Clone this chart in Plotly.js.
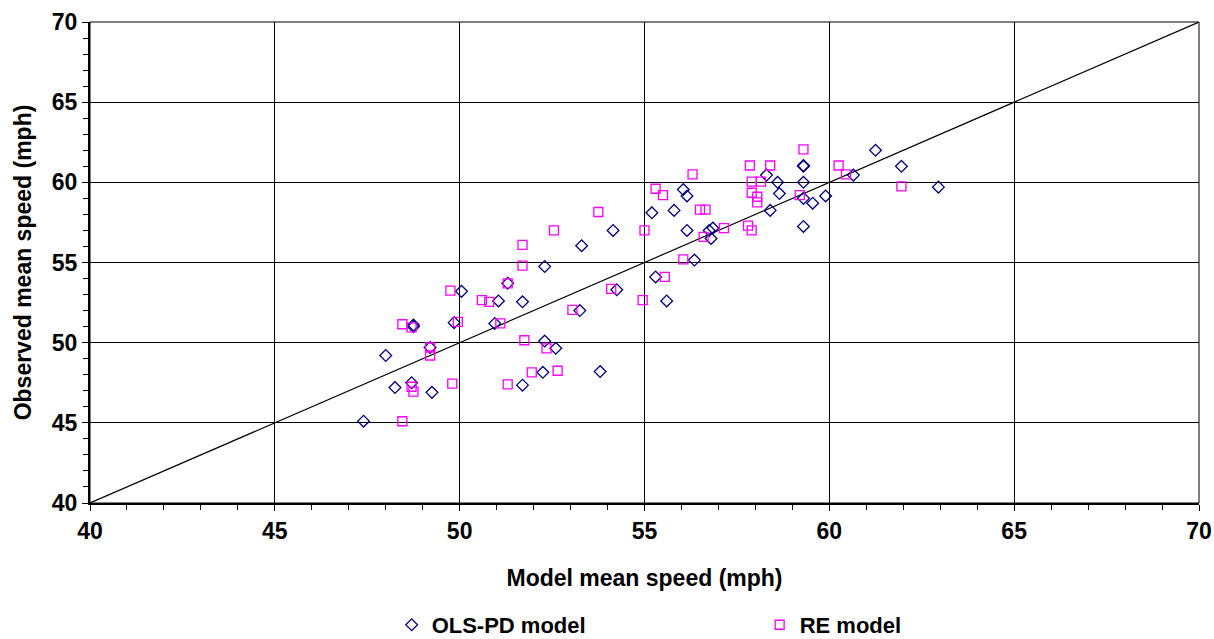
<!DOCTYPE html>
<html>
<head>
<meta charset="utf-8">
<script src="https://cdn.plot.ly/plotly-3.0.1.min.js"></script>
<style>html,body{margin:0;padding:0;background:#fff;}#chart{width:1214px;height:639px;}</style>
</head>
<body>
<div id="chart"></div>
<script>
// OLS-PD model: model mean speed (x) vs observed mean speed (y)
const olsX = [47.4, 48.0, 48.25, 48.7, 49.25, 48.75, 48.75, 49.2, 49.85, 50.05,
              50.95, 51.05, 51.3, 51.7, 51.7, 52.25, 52.3, 52.6, 52.3, 53.25,
              53.3, 53.8, 54.15, 54.25, 55.2, 55.3, 55.6, 55.8, 56.05, 56.15,
              56.15, 56.35, 56.85, 56.75, 56.8, 58.3, 58.6, 58.65, 58.4, 59.3,
              59.3, 59.3, 59.3, 59.55, 59.9, 59.3, 60.65, 61.25, 61.95, 62.95];
const olsY = [45.1, 49.2, 47.2, 47.5, 46.9, 51.1, 51.0, 49.7, 51.25, 53.2,
              51.2, 52.6, 53.7, 52.55, 47.35, 48.15, 50.1, 49.65, 54.75, 52.0,
              56.05, 48.2, 57.0, 53.3, 58.1, 54.1, 52.6, 58.25, 59.55, 59.15,
              57.0, 55.15, 57.15, 57.0, 56.5, 60.45, 60.0, 59.3, 58.25, 61.0,
              61.05, 60.0, 59.0, 58.7, 59.15, 57.25, 60.45, 62.0, 61.0, 59.7];
// RE model
const reX = [48.45, 48.7, 48.75, 49.8, 49.2, 49.2, 48.45, 48.7, 49.95, 49.75,
             50.6, 50.8, 51.1, 51.3, 51.3, 51.95, 51.75, 52.35, 52.65, 51.7,
             51.7, 52.55, 53.05, 53.75, 54.1, 54.95, 55.0, 55.3, 55.5, 55.55,
             56.05, 56.3, 56.5, 56.65, 56.6, 57.15, 57.85, 58.4, 57.9, 58.15,
             57.9, 58.05, 58.05, 57.8, 57.9, 59.3, 59.2, 60.25, 60.45, 61.95];
const reY = [45.1, 47.25, 46.95, 47.45, 49.7, 49.2, 51.15, 50.95, 51.3, 53.25,
             52.65, 52.55, 51.2, 53.7, 47.4, 48.15, 50.15, 49.65, 48.25, 56.1,
             54.8, 57.0, 52.05, 58.15, 53.35, 52.65, 57.0, 59.6, 59.2, 54.1,
             55.2, 60.5, 58.3, 58.3, 56.6, 57.15, 61.05, 61.05, 60.05, 60.05,
             59.35, 59.1, 58.75, 57.3, 57.0, 62.05, 59.2, 61.05, 60.5, 59.75];
// 45-degree reference line
const lineX = [40, 70];
const lineY = [40, 70];
const seriesNames = ['OLS-PD model', 'RE model'];
const xTitle = 'Model mean speed (mph)';
const yTitle = 'Observed mean speed (mph)';

const FONT = 'Liberation Sans, Arial, sans-serif';
const FS = 23;

const traces = [
  {x: lineX, y: lineY, mode: 'lines', line: {color: '#000', width: 1.2},
   showlegend: false, hoverinfo: 'skip'},
  {x: olsX, y: olsY, mode: 'markers', name: seriesNames[0],
   marker: {symbol: 'diamond-open', size: 9, color: '#000080', line: {width: 1.3}}},
  {x: reX, y: reY, mode: 'markers', name: seriesNames[1],
   marker: {symbol: 'square-open', size: 9, color: '#FF00FF', line: {width: 1.3}}}
];

const axisCommon = {
  range: [40, 70], dtick: 5, tick0: 40, automargin: false,
  showgrid: true, gridcolor: '#000', gridwidth: 1,
  showline: true, linecolor: '#000', linewidth: 2,
  ticks: 'outside', ticklen: 6, tickwidth: 1, tickcolor: '#000',
  minor: {dtick: 1, ticks: 'outside', ticklen: 5, tickwidth: 1, tickcolor: '#000', showgrid: false},
  zeroline: false,
  tickfont: {family: FONT, size: FS, color: '#000', weight: 'bold'},
  fixedrange: true
};

const layout = {
  width: 1214, height: 639,
  margin: {l: 90, r: 15, t: 22, b: 136},
  paper_bgcolor: '#fff', plot_bgcolor: '#fff',
  font: {family: FONT, color: '#000'},
  xaxis: Object.assign({}, axisCommon, {
    title: {text: xTitle, font: {family: FONT, size: FS, color: '#000', weight: 'bold'}, standoff: 27}
  }),
  yaxis: Object.assign({}, axisCommon, {
    title: {text: yTitle, font: {family: FONT, size: FS, color: '#000', weight: 'bold'}, standoff: 14}
  }),
  showlegend: true,
  legend: {
    orientation: 'h', x: 0.272, xanchor: 'left',
    yref: 'container', y: 0.022, yanchor: 'middle',
    font: {family: FONT, size: 22, color: '#000', weight: 'bold'},
    entrywidth: 323, entrywidthmode: 'pixels', itemwidth: 30,
    bgcolor: 'rgba(0,0,0,0)'
  },
  shapes: [
    {type: 'rect', xref: 'paper', yref: 'paper', x0: 0, y0: 0, x1: 1, y1: 1,
     line: {color: '#000', width: 1}, fillcolor: 'rgba(0,0,0,0)', layer: 'above'}
  ]
};

Plotly.newPlot('chart', traces, layout, {staticPlot: true, displayModeBar: false});
</script>
</body>
</html>
